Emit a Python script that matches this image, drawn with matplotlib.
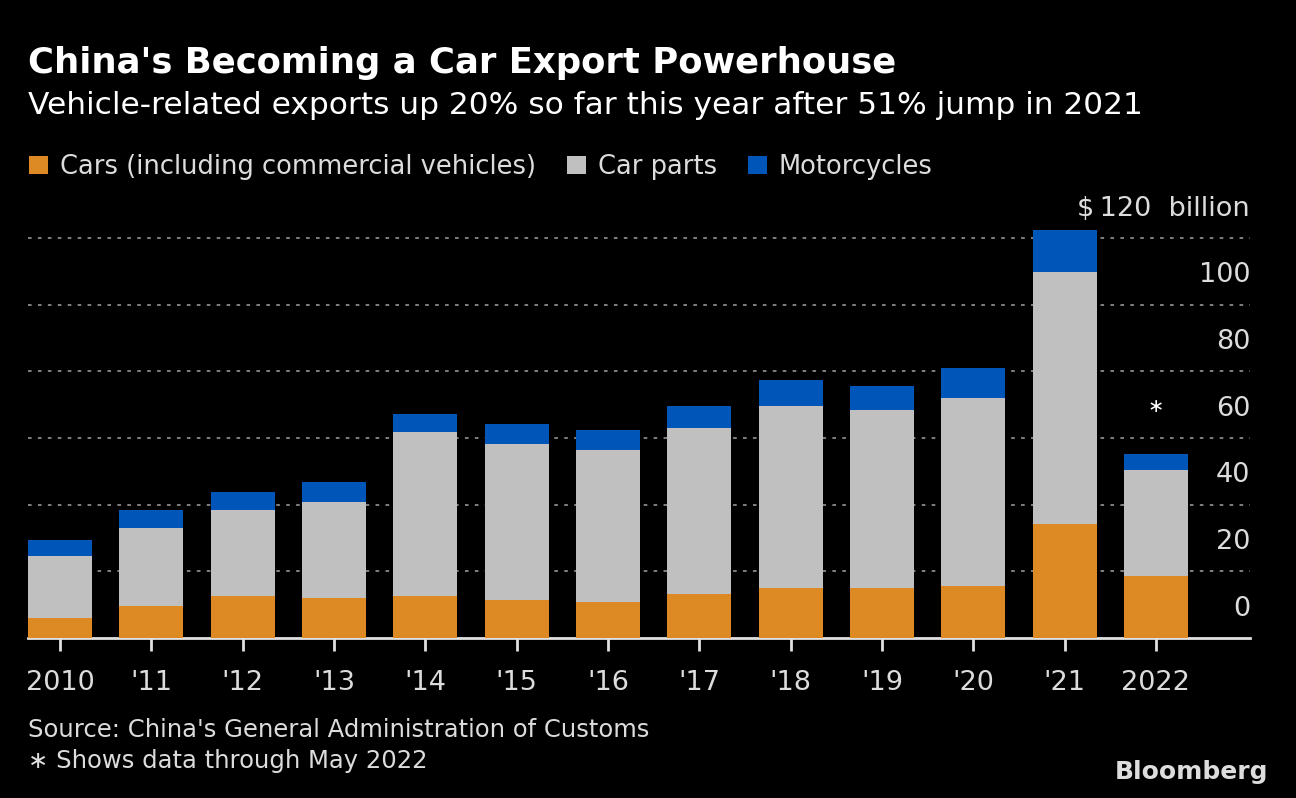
import matplotlib
matplotlib.use("Agg")
import matplotlib.pyplot as plt
import numpy as np

# values in $ billion
years = ["2010", "'11", "'12", "'13", "'14", "'15", "'16", "'17", "'18", "'19", "'20", "'21", "2022"]
cars = [6.0, 9.6, 12.6, 12.0, 12.6, 11.4, 10.8, 13.2, 15.0, 15.0, 15.6, 34.2, 18.6]
parts = [18.6, 23.4, 25.8, 28.8, 49.2, 46.8, 45.6, 49.8, 54.6, 53.4, 56.4, 75.6, 31.8]
motos = [4.8, 5.4, 5.4, 6.0, 5.4, 6.0, 6.0, 6.6, 7.8, 7.2, 9.0, 12.6, 4.8]
yticks = [0, 20, 40, 60, 80, 100, 120]

c_cars = "#DD8A24"
c_parts = "#C0C0C0"
c_moto = "#0055B8"
txt = "#DCDCDC"

fig = plt.figure(figsize=(12.96, 7.98), dpi=100, facecolor="black")
ax = fig.add_axes([28/1296, 160/798, 1222/1296, 420/798], facecolor="black")

x = np.arange(len(years))
cars = np.array(cars)
parts = np.array(parts)
motos = np.array(motos)
w = 0.70
b1 = ax.bar(x, cars, w, color=c_cars, zorder=3)
b2 = ax.bar(x, parts, w, bottom=cars, color=c_parts, zorder=3)
b3 = ax.bar(x, motos, w, bottom=cars + parts, color=c_moto, zorder=3)

ax.set_xlim(-0.35, 13.03)
ax.set_ylim(0, 126)

for v in yticks[1:]:
    ax.axhline(v, color="#8a8a8a", lw=1.3, ls=(0, (2, 3.5)), zorder=1)
for v in yticks:
    lab = "$\u2009120  billion" if v == 120 else str(v)
    ax.annotate(lab, xy=(1, v), xycoords=("axes fraction", "data"),
                xytext=(0, 21), textcoords="offset points",
                ha="right", va="center", color=txt, fontsize=19.5)

for s in ["top", "left", "right"]:
    ax.spines[s].set_visible(False)
ax.spines["bottom"].set_color("#E0E0E0")
ax.spines["bottom"].set_linewidth(2)
ax.set_yticks([])
ax.set_xticks(x)
ax.set_xticklabels(years, fontsize=19.5, color=txt)
ax.tick_params(axis="x", length=9, width=2, color="#E0E0E0", pad=14)

ax.text(12, 69.5, "\u2217", ha="center", va="center", color="white", fontsize=14)

fig.text(28/1296, 1 - 63/798, "China's Becoming a Car Export Powerhouse",
         fontsize=25.5, fontweight="bold", color="white", va="center")
fig.text(28/1296, 1 - 105/798, "Vehicle-related exports up 20% so far this year after 51% jump in 2021",
         fontsize=22.5, color="white", va="center")

leg = ax.legend([b1, b2, b3], ["Cars (including commercial vehicles)", "Car parts", "Motorcycles"],
                loc="center left", bbox_to_anchor=(6/1296, 1 - 167/798),
                bbox_transform=fig.transFigure, ncol=3, frameon=False,
                fontsize=18.5, handlelength=0.75, handleheight=0.75,
                handletextpad=0.45, columnspacing=1.2, labelcolor=txt)

fig.text(28/1296, 1 - 730/798, "Source: China's General Administration of Customs",
         fontsize=17.5, color=txt, va="center")
fig.text(28/1296, 1 - 761/798, "\u2217 Shows data through May 2022",
         fontsize=17.5, color=txt, va="center")
fig.text(1268/1296, 1 - 772/798, "Bloomberg", fontsize=18, fontweight="bold",
         color="#DDDDDD", ha="right", va="center")

fig.savefig("out.png", dpi=100, facecolor="black")
